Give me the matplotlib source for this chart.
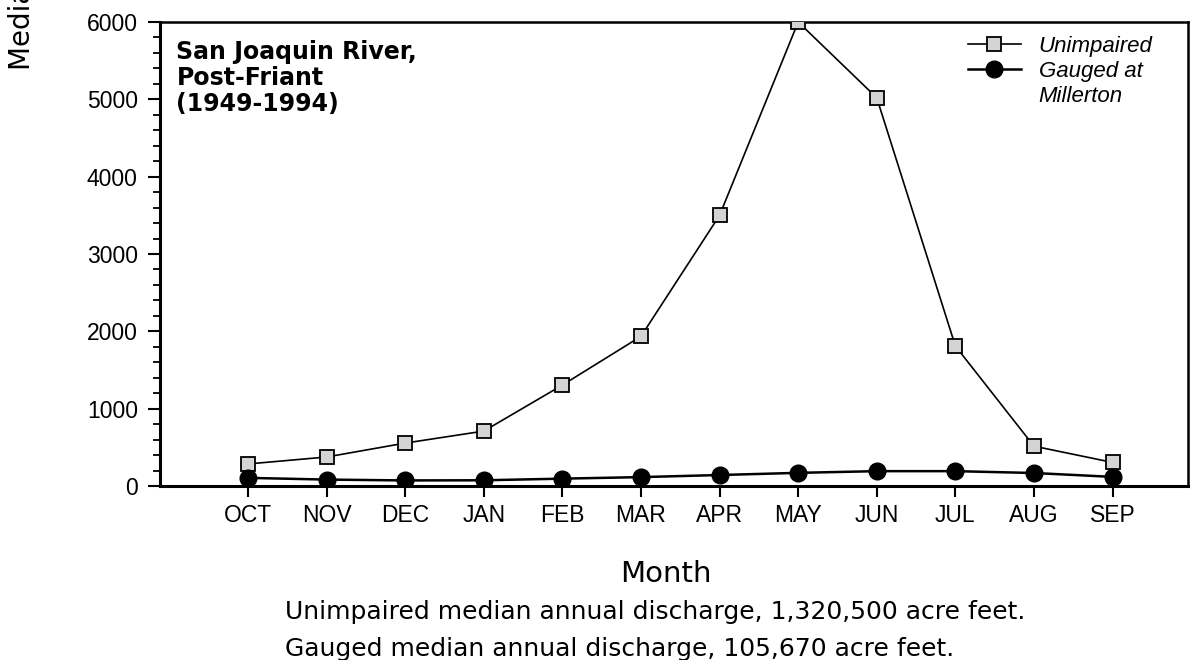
import numpy as np
import matplotlib
matplotlib.use("Agg")
from matplotlib import pyplot as plt
from matplotlib.lines import Line2D
from matplotlib.ticker import MultipleLocator

months = ["OCT", "NOV", "DEC", "JAN", "FEB", "MAR", "APR", "MAY", "JUN", "JUL", "AUG", "SEP"]
unimpaired = [285, 375, 555, 710, 1305, 1935, 3500, 6000, 5020, 1810, 515, 305]
gauged = [105, 83, 72, 74, 95, 115, 142, 170, 192, 192, 168, 118]

title = "San Joaquin River,\nPost-Friant\n(1949-1994)"
note1 = "Unimpaired median annual discharge, 1,320,500 acre feet."
note2 = "Gauged median annual discharge, 105,670 acre feet."

tick_font = "Liberation Sans"
geo_font = "DejaVu Sans"

fig = plt.figure(figsize=(11.94, 6.6), dpi=100)
ax = fig.add_axes([160 / 1194, 1 - 486 / 660, (1188 - 160) / 1194, (486 - 22) / 660])

x = np.arange(len(months))
l1, = ax.plot(x, unimpaired, color="black", lw=1.2, marker="s", ms=10,
              mfc="#d4d4d4", mec="black", mew=1.3, zorder=3)
l2, = ax.plot(x, gauged, color="black", lw=1.8, marker="o", ms=12,
              mfc="black", mec="black", zorder=4)

ax.set_xlim(-1.12, 11.96)
ax.set_ylim(0, 6000)
ax.set_xticks(x)
ax.set_xticklabels(months, fontfamily=tick_font, fontsize=16.5)
ax.yaxis.set_major_locator(MultipleLocator(1000))
ax.yaxis.set_minor_locator(MultipleLocator(200))
for lab in ax.get_yticklabels():
    lab.set_fontfamily(tick_font)
    lab.set_fontsize(16.5)
ax.tick_params(axis="y", which="major", length=9, width=1.5, direction="out", pad=7)
ax.tick_params(axis="y", which="minor", length=5, width=1.3, direction="out")
ax.tick_params(axis="x", which="major", length=8, width=1.5, direction="out", pad=5)

for side in ["left", "bottom"]:
    ax.spines[side].set_linewidth(2.2)
for side in ["top", "right"]:
    ax.spines[side].set_linewidth(1.8)

ax.text(0.016, 0.962, title, transform=ax.transAxes, ha="left", va="top",
        fontfamily=geo_font, fontweight="bold", fontsize=17, linespacing=1.12)

blank = Line2D([], [], linestyle="none")
leg = ax.legend([l1, l2, blank], ["Unimpaired", "Gauged at", "Millerton"],
                loc="upper right", bbox_to_anchor=(0.985, 1.013), frameon=False,
                prop={"family": tick_font, "style": "italic", "size": 16},
                handlelength=2.4, labelspacing=0.18, handletextpad=0.8)

fig.text(666 / 1194, 1 - 574 / 660, "Month", ha="center", va="center",
         fontfamily=geo_font, fontsize=21)
fig.text(285 / 1194, 1 - 612 / 660, note1, ha="left", va="center",
         fontfamily=geo_font, fontsize=18)
fig.text(285 / 1194, 1 - 649 / 660, note2, ha="left", va="center",
         fontfamily=geo_font, fontsize=18)
fig.text(22 / 1194, 1 - 70 / 660, "Median Monthly Flow (cfs)", rotation=90,
         ha="center", va="bottom", fontfamily=geo_font, fontsize=20)

fig.savefig("out.png", dpi=100)
